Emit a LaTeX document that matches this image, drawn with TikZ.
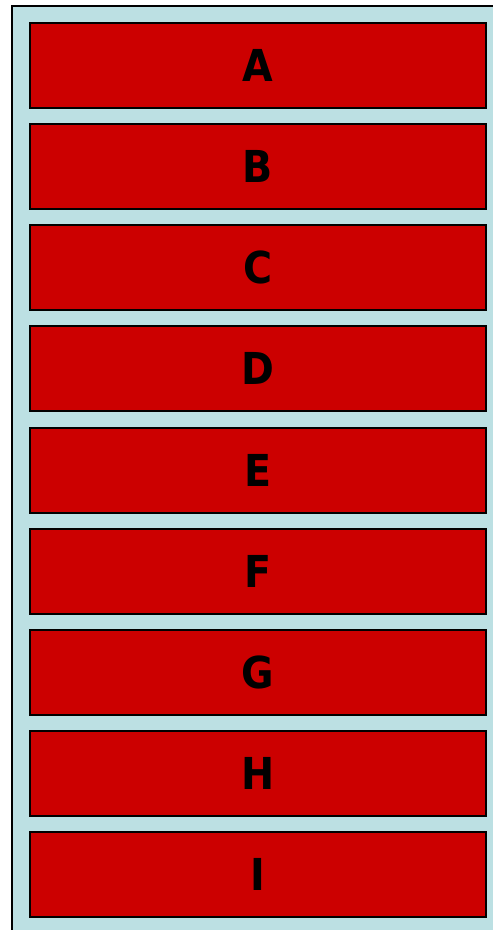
\documentclass[tikz,border=0pt]{standalone}
\usepackage{fontspec}
\newfontfamily\boxfont{DejaVu Sans Condensed}
\definecolor{outerbg}{HTML}{BCE0E3}
\definecolor{boxred}{HTML}{CC0000}
\begin{document}
\begin{tikzpicture}[x=1pt,y=-1pt,
  redbox/.style={draw=black,line width=2pt,fill=boxred,minimum width=456pt,minimum height=85pt,inner sep=0pt,font=\boxfont\bfseries\fontsize{44}{46}\selectfont,anchor=north west}]
\useasboundingbox (0,0) rectangle (493,930);
\fill[white] (0,0) rectangle (493,930);
\draw[line width=2pt,fill=outerbg] (12,6) rectangle (510,950);
\foreach \l [count=\i from 0] in {A,B,C,D,E,F,G,H,I}{
  \node[redbox] (box\l) at (29,{22+101.125*\i}) {\l};
}
\end{tikzpicture}
\end{document}
